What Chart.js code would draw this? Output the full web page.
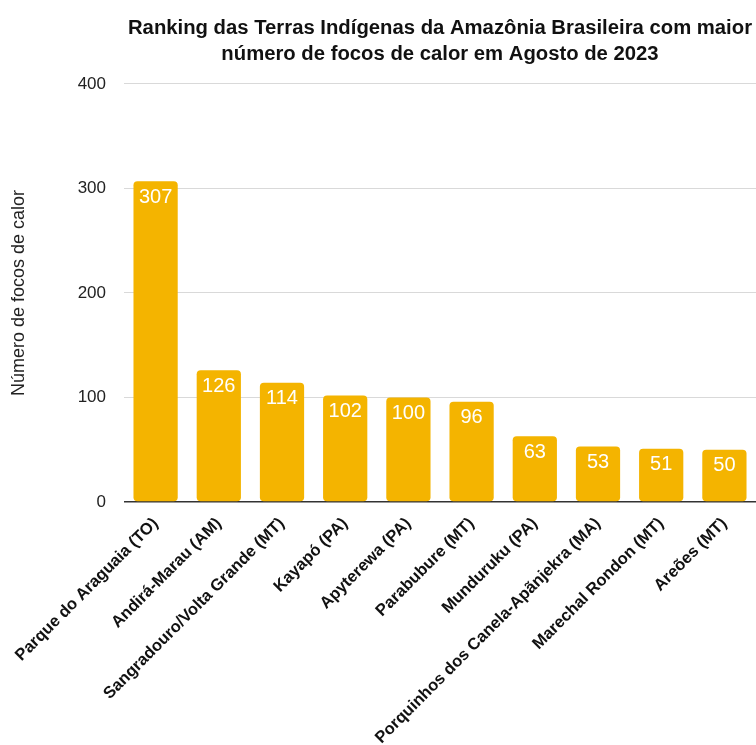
<!DOCTYPE html>
<html>
<head>
<meta charset="utf-8">
<script src="https://cdn.jsdelivr.net/npm/chart.js@4/dist/chart.umd.min.js"></script>
<style>
  html, body { margin: 0; padding: 0; background: #fff; }
  #wrap { width: 756px; height: 745px; }
</style>
</head>
<body>
<div id="wrap"><canvas id="focosChart" width="756" height="745"></canvas></div>
<script>
const territorios = [
    "Parque do Araguaia (TO)",
    "Andirá-Marau (AM)",
    "Sangradouro/Volta Grande (MT)",
    "Kayapó (PA)",
    "Apyterewa (PA)",
    "Parabubure (MT)",
    "Munduruku (PA)",
    "Porquinhos dos Canela-Apãnjekra (MA)",
    "Marechal Rondon (MT)",
    "Areões (MT)"
];
const focos = [307, 126, 114, 102, 100, 96, 63, 53, 51, 50];
const yTicks = [0, 100, 200, 300, 400];

const fonte = "'Liberation Sans', Arial, Helvetica, sans-serif";

// draws the value inside the top of each bar
const valoresNasBarras = {
    id: "valoresNasBarras",
    afterDatasetsDraw(chart) {
        const ctx = chart.ctx;
        const meta = chart.getDatasetMeta(0);
        ctx.save();
        ctx.fillStyle = "#ffffff";
        ctx.font = "20px " + fonte;
        ctx.textAlign = "center";
        ctx.textBaseline = "middle";
        meta.data.forEach((bar, i) => {
            ctx.fillText(String(focos[i]), bar.x, bar.y + 16);
        });
        ctx.restore();
    }
};

function desenharGrafico() {
    const ctx = document.getElementById("focosChart").getContext("2d");

    window.focosChart = new Chart(ctx, {
        type: "bar",
        data: {
            labels: territorios,
            datasets: [{
                data: focos,
                backgroundColor: "#F4B400",
                borderRadius: 4,
                borderSkipped: false,
                barPercentage: 0.875,
                categoryPercentage: 0.8
            }]
        },
        options: {
            responsive: false,
            animation: false,
            layout: { padding: 0 },
            plugins: {
                legend: { display: false },
                tooltip: { enabled: false },
                title: {
                    display: true,
                    fullSize: false,
                    text: [
                        "Ranking das Terras Indígenas da Amazônia Brasileira com maior",
                        "número de focos de calor em Agosto de 2023"
                    ],
                    color: "#111",
                    font: { family: fonte, size: 20.3, weight: "bold", lineHeight: 1.28 },
                    padding: { top: 15, bottom: 17 }
                }
            },
            scales: {
                x: {
                    grid: { display: false },
                    border: { display: false },
                    ticks: {
                        color: "#111",
                        font: { family: fonte, size: 16.5, weight: "bold" },
                        minRotation: 45,
                        maxRotation: 45,
                        autoSkip: false,
                        padding: 4
                    },
                    afterFit(scale) {
                        scale.height = 243;
                        scale.paddingLeft = 0;
                        scale.paddingRight = 0;
                    }
                },
                y: {
                    min: 0,
                    max: 400,
                    afterBuildTicks(scale) {
                        scale.ticks = yTicks.map(v => ({ value: v }));
                    },
                    grid: {
                        drawTicks: false,
                        color: c => c.tick.value === 0 ? "#333333" : "#d9d9d9",
                        lineWidth: c => c.tick.value === 0 ? 1.5 : 1
                    },
                    border: { display: false },
                    ticks: {
                        color: "#222",
                        font: { family: fonte, size: 17 },
                        padding: 18
                    },
                    title: {
                        display: true,
                        text: "Número de focos de calor",
                        color: "#222",
                        font: { family: fonte, size: 18 },
                        padding: { top: 8, bottom: 4 }
                    },
                    afterFit(scale) {
                        scale.width = 124;
                    }
                }
            }
        },
        plugins: [valoresNasBarras]
    });
}

window.onload = function () { desenharGrafico(); };
</script>
</body>
</html>
